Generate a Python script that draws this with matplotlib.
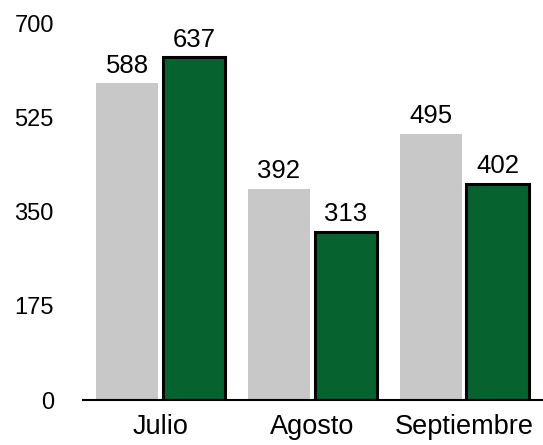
import numpy as np
import matplotlib
matplotlib.use("Agg")
import matplotlib.pyplot as plt

months = ["Julio", "Agosto", "Septiembre"]
serie_gris = [588, 392, 495]
serie_verde = [637, 313, 402]
yticks = [0, 175, 350, 525, 700]

plt.rcParams['font.family'] = ['Liberation Sans', 'DejaVu Sans']

fig = plt.figure(figsize=(5.43, 4.45), dpi=100)
ax = fig.add_axes([0.153, 0.101, 0.847, 0.847])

x = np.arange(len(months))
w = 0.41
b1 = ax.bar(x - 0.22, serie_gris, w, color='#c8c8c8')
b2 = ax.bar(x + 0.22, serie_verde, w, color='#066330', edgecolor='black', linewidth=2.2)

for bars, vals in ((b1, serie_gris), (b2, serie_verde)):
	for r, v in zip(bars, vals):
		ax.annotate(str(v), (r.get_x() + r.get_width() / 2, v), xytext=(0, 4),
			textcoords='offset points', ha='center', va='bottom', fontsize=18.5)

ax.set_xlim(-0.51, 2.52)
ax.set_ylim(0, 700)
ax.set_yticks(yticks)
ax.set_xticks(x)
ax.set_xticklabels(months)
ax.tick_params(axis='both', length=0)
ax.tick_params(axis='y', pad=21, labelsize=17)
ax.tick_params(axis='x', pad=10, labelsize=19.5)
for s in ['top', 'right', 'left']:
	ax.spines[s].set_visible(False)
ax.spines['bottom'].set_linewidth(1.5)

fig.savefig("out.png", dpi=100)
